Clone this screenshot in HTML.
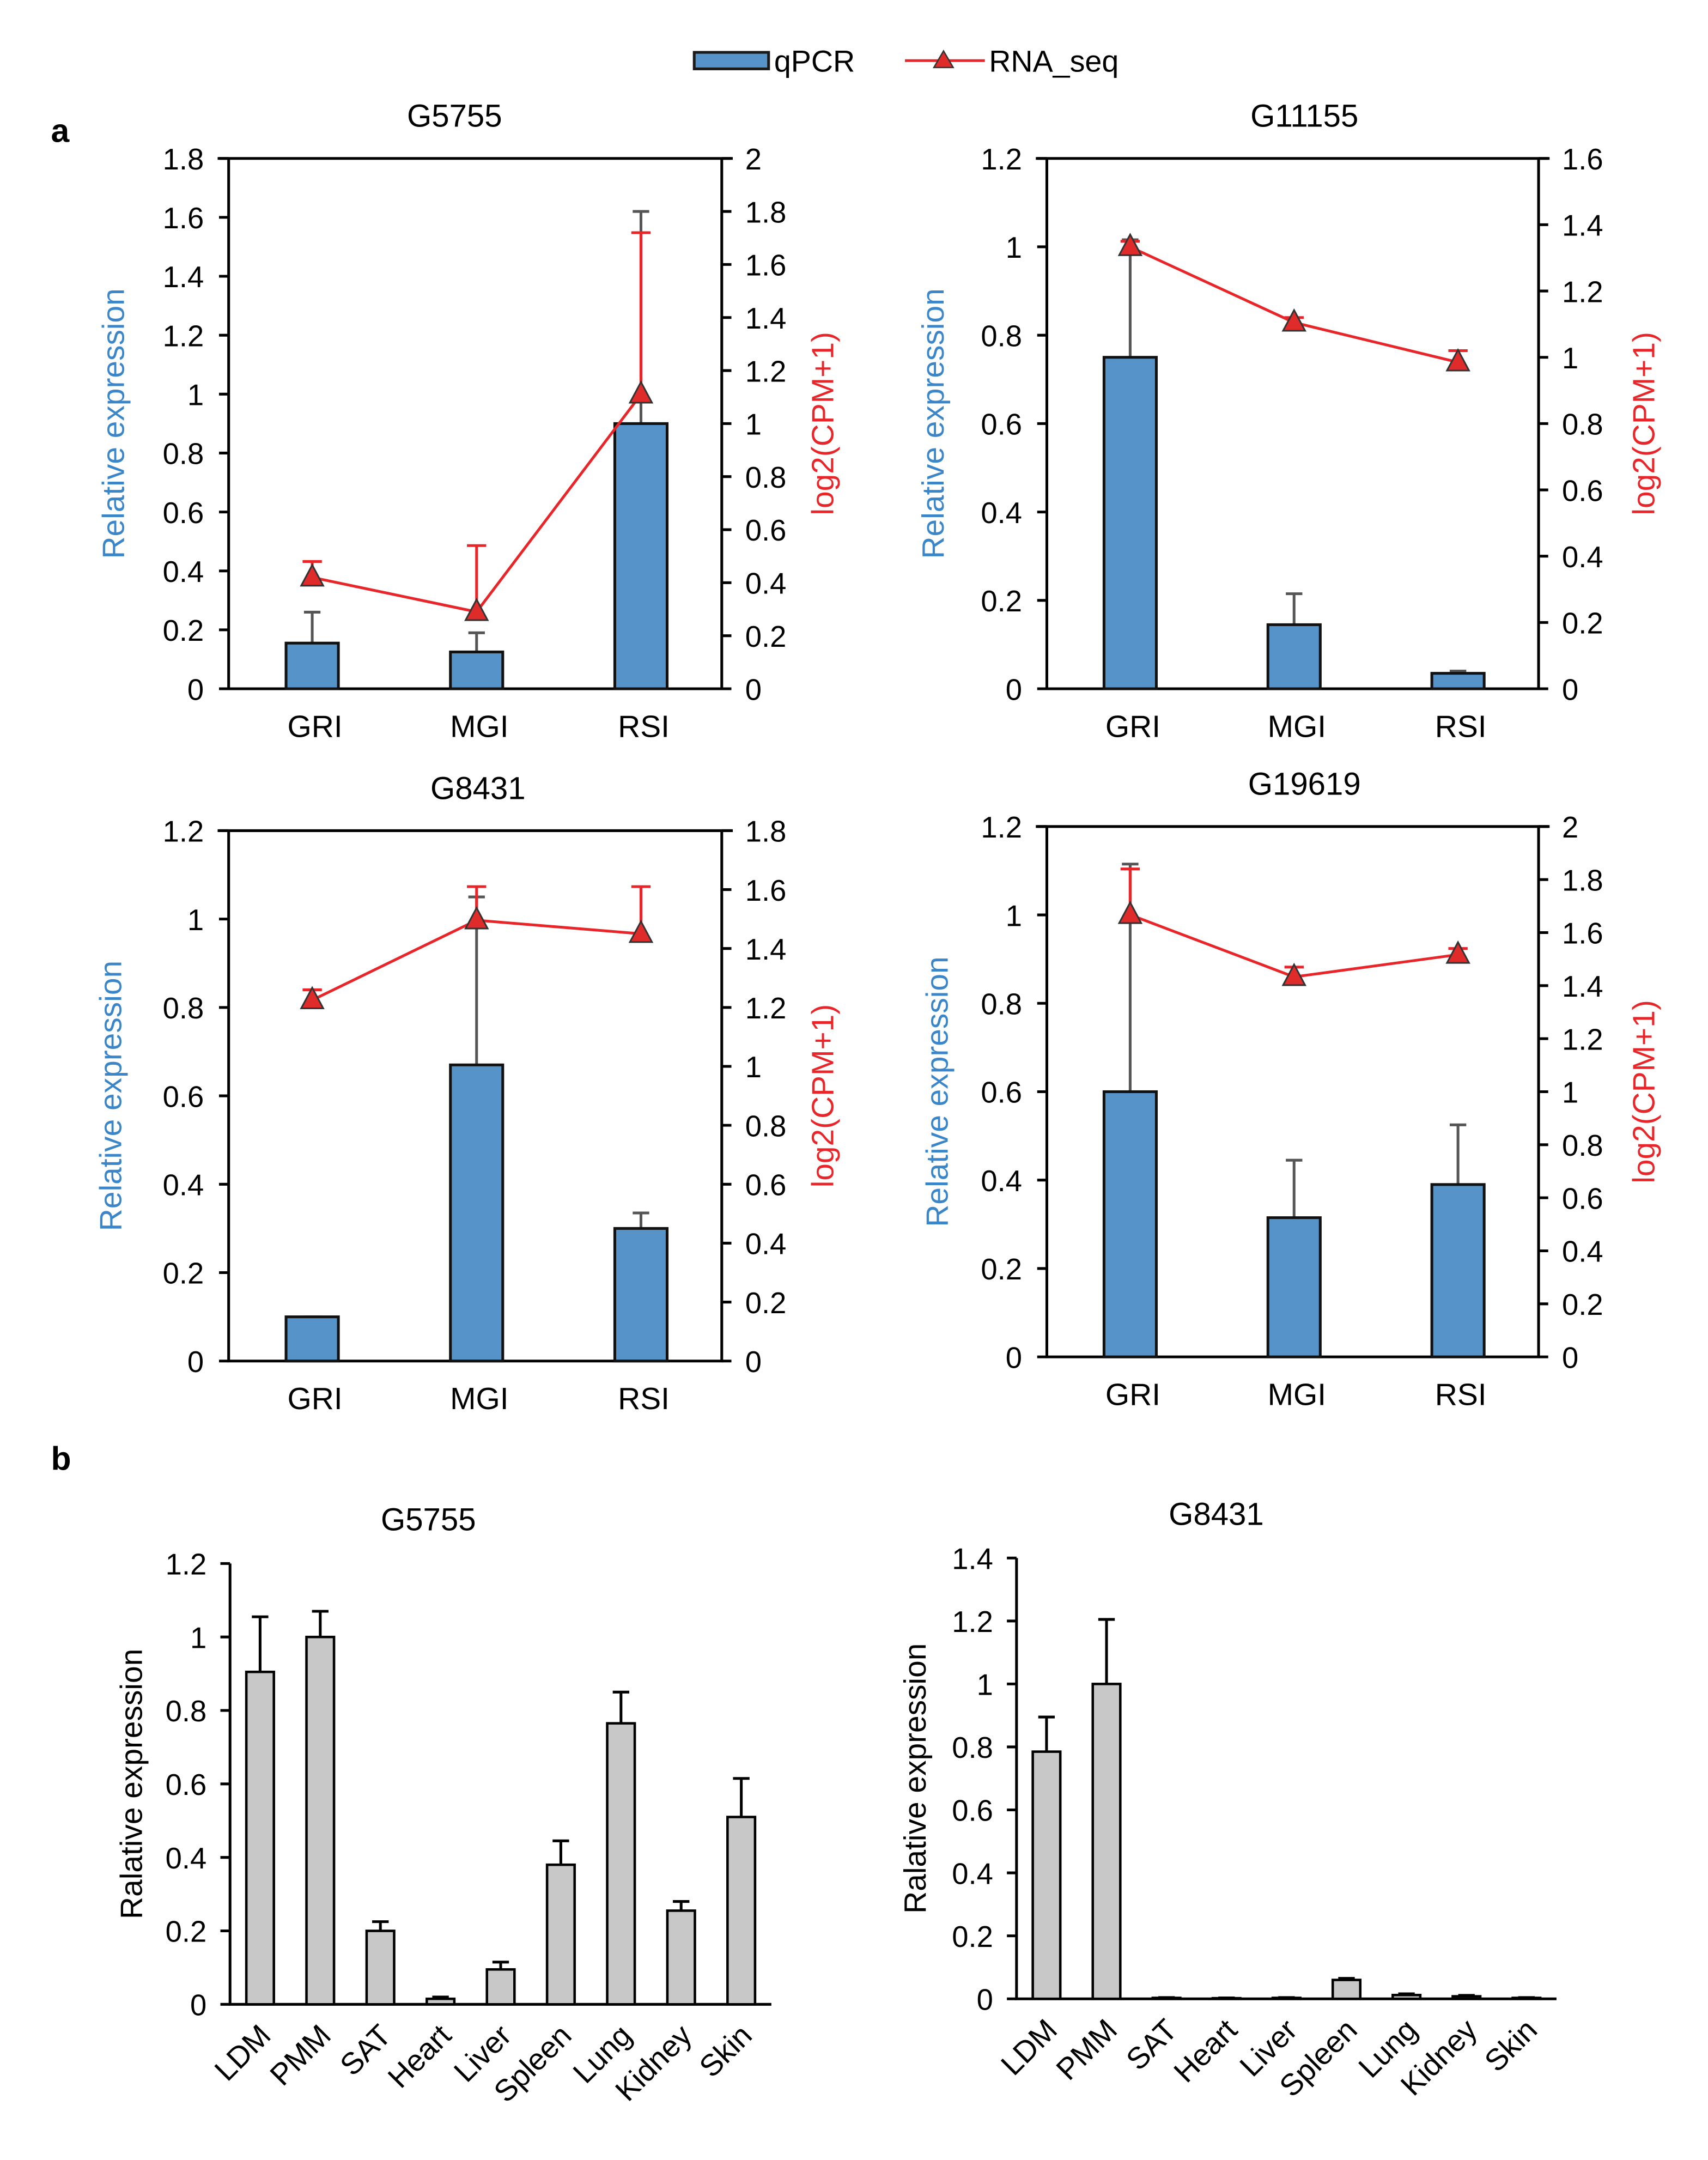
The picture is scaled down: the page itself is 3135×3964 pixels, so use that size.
<!DOCTYPE html>
<html><head><meta charset="utf-8"><style>
html,body{margin:0;padding:0;background:#fff}
svg{display:block}
text{font-family:"Liberation Sans",Arial,sans-serif}
</style></head><body>
<svg id="fig" width="3135" height="3964" viewBox="0 0 1240 1568" preserveAspectRatio="none" xmlns="http://www.w3.org/2000/svg">
<g>
<rect x="504" y="38" width="54" height="12" fill="#5593c9" stroke="#1a1a1a" stroke-width="2"/>
<text x="562" y="52" font-size="22">qPCR</text>
<line x1="657" y1="44" x2="715" y2="44" stroke="#e8262a" stroke-width="2"/>
<polygon points="685,37 692,49 678,49" fill="#e02b2b" stroke="#333" stroke-width="1"/>
<text x="718" y="52" font-size="22">RNA_seq</text>
</g>
<text x="37" y="103" font-size="24" font-weight="bold">a</text>
<text x="37" y="1067" font-size="24" font-weight="bold">b</text>
</svg>
<script>
// ---- Panel a data ----
const catsA = ["GRI","MGI","RSI"];
const g5755Qpcr = [0.155, 0.125, 0.9];
const g5755QpcrErr = [0.26, 0.19, 1.62];
const g5755Rna = [0.42, 0.29, 1.11];
const g5755RnaErr = [0.48, 0.54, 1.72];
const g11155Qpcr = [0.75, 0.145, 0.035];
const g11155QpcrErr = [1.016, 0.215, 0.04];
const g11155Rna = [1.333, 1.105, 0.985];
const g11155RnaErr = [1.35, 1.12, 1.02];
const g8431Qpcr = [0.1, 0.67, 0.3];
const g8431QpcrErr = [0.1, 1.05, 0.335];
const g8431Rna = [1.225, 1.496, 1.45];
const g8431RnaErr = [1.26, 1.61, 1.61];
const g19619Qpcr = [0.6, 0.315, 0.39];
const g19619QpcrErr = [1.115, 0.445, 0.525];
const g19619Rna = [1.667, 1.433, 1.517];
const g19619RnaErr = [1.84, 1.47, 1.54];
const ticksLeft18 = ["0","0.2","0.4","0.6","0.8","1","1.2","1.4","1.6","1.8"];
const ticksLeft12 = ["0","0.2","0.4","0.6","0.8","1","1.2"];
const ticksRight2 = ["0","0.2","0.4","0.6","0.8","1","1.2","1.4","1.6","1.8","2"];
const ticksRight16 = ["0","0.2","0.4","0.6","0.8","1","1.2","1.4","1.6"];
const ticksRight18 = ["0","0.2","0.4","0.6","0.8","1","1.2","1.4","1.6","1.8"];
// ---- Panel b data ----
const tissues = ["LDM","PMM","SAT","Heart","Liver","Spleen","Lung","Kidney","Skin"];
const bG5755 = [0.905, 1.0, 0.2, 0.015, 0.095, 0.38, 0.765, 0.255, 0.51];
const bG5755Err = [1.055, 1.07, 0.225, 0.02, 0.115, 0.445, 0.85, 0.28, 0.615];
const bG8431 = [0.785, 1.0, 0.003, 0.002, 0.003, 0.06, 0.012, 0.008, 0.003];
const bG8431Err = [0.895, 1.205, 0.004, 0.003, 0.004, 0.065, 0.016, 0.011, 0.004];
const ticksB12 = ["0","0.2","0.4","0.6","0.8","1","1.2"];
const ticksB14 = ["0","0.2","0.4","0.6","0.8","1","1.2","1.4"];

const NS = "http://www.w3.org/2000/svg";
const svg = document.getElementById('fig');
function mk(tag, attrs, parent, txt){
  const e = document.createElementNS(NS, tag);
  for (const k in attrs) e.setAttribute(k, attrs[k]);
  if (txt !== undefined) e.textContent = txt;
  (parent || svg).appendChild(e);
  return e;
}

function dualChart(o){
  const g = mk('g', {});
  
  
  const L=o.l, R=o.r, T=o.t, B=o.b;
  const yl = v => B - v / o.lmax * (B - T);
  const yr = v => B - v / o.rmax * (B - T);
  const n = o.cats.length, step = (R - L) / n;
  const xc = i => L + step * (i + 0.5) + 1;
  let t = mk('text', {x:o.tx, y:o.t-23, 'font-size':23, 'text-anchor':'middle'}, g, o.title);
  
  
  let ax = mk('path', {d:`M${L},${T} L${L},${B} L${R},${B} L${R},${T} M${L-8},${T} L${R+8},${T}`, stroke:'#000', 'stroke-width':2, fill:'none'}, g);
  
  
  o.lt.forEach(lab => {
    const v = parseFloat(lab), y = yl(v);
    mk('line', {x1:L-7, x2:L, y1:y, y2:y, stroke:'#000', 'stroke-width':2}, g);
    const tt = mk('text', {x:L-18, y:y+8, 'font-size':21.5, 'text-anchor':'end'}, g, lab);
    
    
  });
  o.rt.forEach(lab => {
    const v = parseFloat(lab), y = yr(v);
    mk('line', {x1:R, x2:R+7, y1:y, y2:y, stroke:'#000', 'stroke-width':2}, g);
    const tt = mk('text', {x:R+17, y:y+8, 'font-size':21.5}, g, lab);
    
    
  });
  o.cats.forEach((c, i) => {
    const x = xc(i), top = yl(o.q[i]), et = yl(o.qe[i]);
    mk('line', {x1:x, x2:x, y1:top, y2:et, stroke:'#555', 'stroke-width':2}, g);
    mk('line', {x1:x-6, x2:x+6, y1:et, y2:et, stroke:'#555', 'stroke-width':2}, g);
    const b = mk('rect', {x:x-19, y:top, width:38, height:B-top, fill:'#5593c9', stroke:'#111', 'stroke-width':2}, g);
    
    
    const tl = mk('text', {x:x+2, y:B+35, 'font-size':22.5, 'text-anchor':'middle'}, g, c);
    
    
  });
  let pts = o.cats.map((c, i) => `${xc(i)},${yr(o.s[i])}`).join(' ');
  o.cats.forEach((c, i) => {
    const x = xc(i), y = yr(o.s[i]), ye = yr(o.se[i]);
    mk('line', {x1:x, x2:x, y1:y, y2:ye, stroke:'#e8262a', 'stroke-width':2}, g);
    mk('line', {x1:x-7, x2:x+7, y1:ye, y2:ye, stroke:'#e8262a', 'stroke-width':2}, g);
  });
  const pl = mk('polyline', {points:pts, fill:'none', stroke:'#e8262a', 'stroke-width':2}, g);
  
  
  o.cats.forEach((c, i) => {
    const x = xc(i), y = yr(o.s[i]);
    const m = mk('polygon', {points:`${x},${y-9} ${x+8},${y+6} ${x-8},${y+6}`, fill:'#e02b2b', stroke:'#333', 'stroke-width':1.2}, g);
    
    
  });
  const yc = (T + B) / 2;
  const ylab = mk('text', {x:0, y:0, 'font-size':22.5, fill:'#3a86c8', 'text-anchor':'middle', transform:`translate(${o.ylx},${yc-displayShift}) rotate(-90)`}, g, 'Relative expression');
  
  
  const rlab = mk('text', {x:0, y:0, 'font-size':22.5, fill:'#e8262a', 'text-anchor':'middle', transform:`translate(${o.rlx},${yc}) rotate(-90)`}, g, 'log2(CPM+1)');
  
  
}
const displayShift = 0;

dualChart({name:'chart-a-g5755', title:'G5755', tx:330, l:166, r:524, t:115, b:500, lmax:1.8, rmax:2, lt:ticksLeft18, rt:ticksRight2, cats:catsA, q:g5755Qpcr, qe:g5755QpcrErr, s:g5755Rna, se:g5755RnaErr, ylx:90, rlx:605});
dualChart({name:'chart-a-g11155', title:'G11155', tx:947, l:760, r:1117, t:115, b:500, lmax:1.2, rmax:1.6, lt:ticksLeft12, rt:ticksRight16, cats:catsA, q:g11155Qpcr, qe:g11155QpcrErr, s:g11155Rna, se:g11155RnaErr, ylx:685, rlx:1201});
dualChart({name:'chart-a-g8431', title:'G8431', tx:347, l:166, r:524, t:603, b:988, lmax:1.2, rmax:1.8, lt:ticksLeft12, rt:ticksRight18, cats:catsA, q:g8431Qpcr, qe:g8431QpcrErr, s:g8431Rna, se:g8431RnaErr, ylx:88, rlx:605});
dualChart({name:'chart-a-g19619', title:'G19619', tx:947, l:760, r:1117, t:600, b:985, lmax:1.2, rmax:2, lt:ticksLeft12, rt:ticksRight2, cats:catsA, q:g19619Qpcr, qe:g19619QpcrErr, s:g19619Rna, se:g19619RnaErr, ylx:688, rlx:1201});

function tissueChart(o){
  const g = mk('g', {});
  
  
  const L=o.l, R=o.r, T=o.t, B=o.b;
  const y = v => B - v / o.max * (B - T);
  const step = (R - L) / o.cats.length;
  const xc = i => L + step * (i + 0.5);
  const t = mk('text', {x:o.tx, y:T-24, 'font-size':23, 'text-anchor':'middle'}, g, o.title);
  
  
  const ax = mk('path', {d:`M${L},${T} L${L},${B} L${R},${B}`, stroke:'#000', 'stroke-width':2, fill:'none'}, g);
  
  
  o.ticks.forEach(lab => {
    const yy = y(parseFloat(lab));
    mk('line', {x1:L-7, x2:L, y1:yy, y2:yy, stroke:'#000', 'stroke-width':2}, g);
    const tt = mk('text', {x:L-17, y:yy+8, 'font-size':21.5, 'text-anchor':'end'}, g, lab);
    
    
  });
  o.cats.forEach((c, i) => {
    const x = xc(i), top = y(o.v[i]), et = y(o.e[i]);
    mk('line', {x1:x, x2:x, y1:top, y2:et, stroke:'#000', 'stroke-width':2}, g);
    mk('line', {x1:x-6, x2:x+6, y1:et, y2:et, stroke:'#000', 'stroke-width':2}, g);
    const b = mk('rect', {x:x-10, y:top, width:20, height:B-top, fill:'#c8c8c8', stroke:'#000', 'stroke-width':1.8}, g);
    
    
    const tl = mk('text', {x:0, y:0, 'font-size':22, 'text-anchor':'end', transform:`translate(${x+9},${B+24}) rotate(-45)`}, g, c);
    
    
  });
  const yl = mk('text', {x:0, y:0, 'font-size':22.5, 'text-anchor':'middle', transform:`translate(${o.ylx},${(T+B)/2}) rotate(-90)`}, g, 'Ralative expression');
  
  
}

tissueChart({name:'chart-b-g5755', title:'G5755', tx:311, l:167, r:560, t:1135, b:1455, max:1.2, ticks:ticksB12, cats:tissues, v:bG5755, e:bG5755Err, ylx:103});
tissueChart({name:'chart-b-g8431', title:'G8431', tx:883, l:738, r:1130, t:1131, b:1451, max:1.4, ticks:ticksB14, cats:tissues, v:bG8431, e:bG8431Err, ylx:672});
</script>
</body></html>
